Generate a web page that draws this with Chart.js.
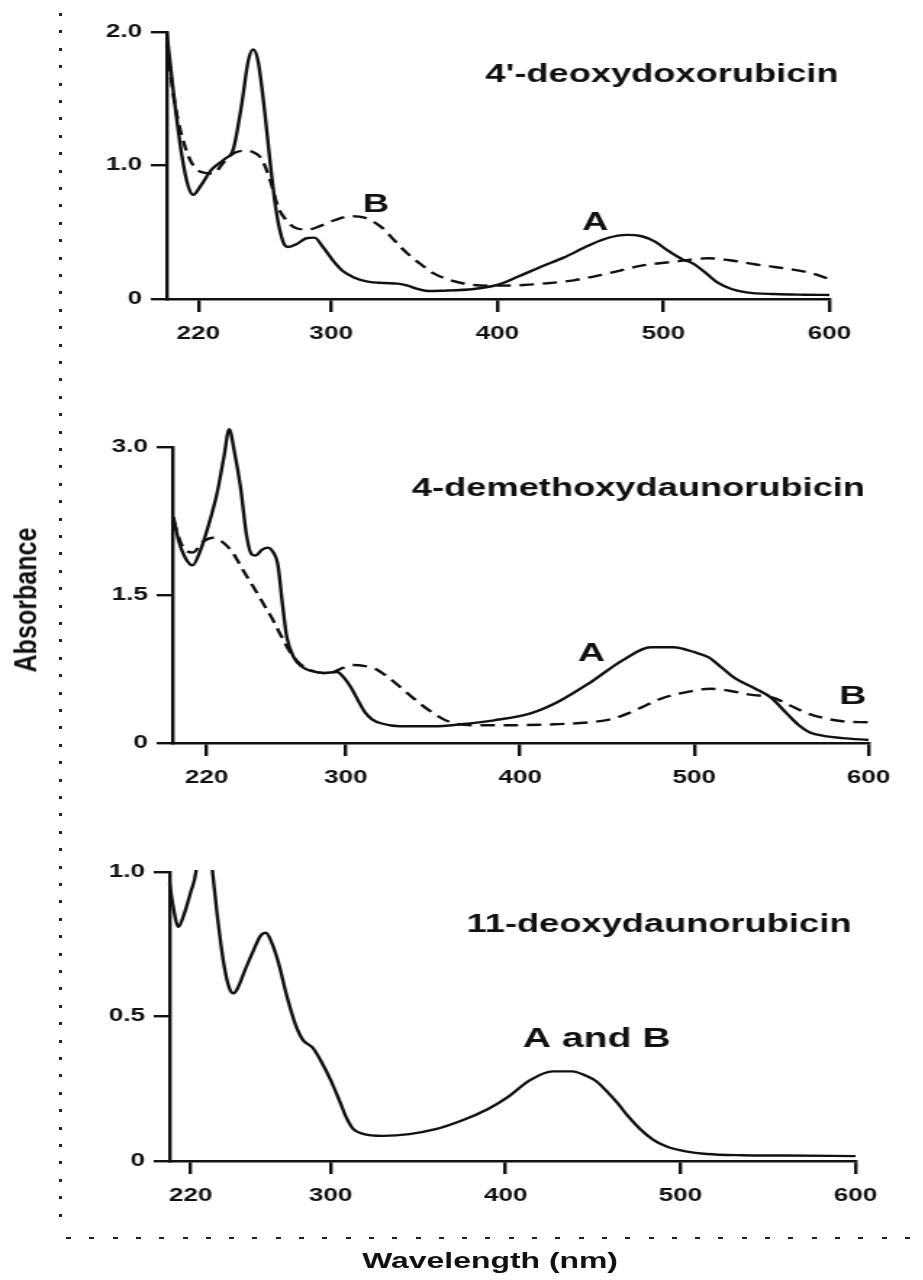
<!DOCTYPE html>
<html>
<head>
<meta charset="utf-8">
<script src="https://cdn.jsdelivr.net/npm/chart.js@4/dist/chart.umd.min.js"></script>
<style>
  html, body { margin: 0; padding: 0; background: #fff; }
  body { width: 923px; height: 1280px; position: relative; overflow: hidden; }
  /* the figure is drawn narrow and widened, which gives the wide bold lettering */
  #sheet { position: absolute; left: 0; top: 0; width: 637px; height: 1280px;
           transform: scaleX(1.45); transform-origin: 0 0; }
  #sheet canvas { position: absolute; left: 0; }
  .axis-title { position: absolute; font: bold 22px "Liberation Sans", Arial, sans-serif;
                color: #111; white-space: nowrap; line-height: 1; }
  #ytitle { left: 17.6px; top: 600px; transform: translate(-50%, -50%) rotate(-90deg) scaleX(1.14); }
  #xtitle { left: 338px; top: 1250px; transform: translateX(-50%); }
  #vdots { position: absolute; left: 59px; top: 13px; width: 3px; height: 1212px;
           background: repeating-linear-gradient(to bottom, #222 0 3px, transparent 3px 17.4px); }
  #hdash { position: absolute; left: 66px; top: 1237px; width: 857px; height: 2px;
           background: repeating-linear-gradient(to right, #222 0 5px, transparent 5px 23.3px); }
</style>
</head>
<body>
<div id="vdots"></div>
<div id="hdash"></div>
<div id="sheet">
  <canvas id="chart1" width="637" height="350" style="top:0px"></canvas>
  <canvas id="chart2" width="637" height="420" style="top:380px"></canvas>
  <canvas id="chart3" width="637" height="400" style="top:820px"></canvas>
  <div class="axis-title" id="ytitle">Absorbance</div>
  <div class="axis-title" id="xtitle">Wavelength (nm)</div>
</div>
<script>
// 4'-deoxydoxorubicin
const wlA1 = [201, 205, 210, 214, 217, 221, 228, 236, 241, 246, 250, 253, 256, 260, 263, 267, 271, 274, 279, 285, 290, 295, 301, 307, 314, 322, 332, 340, 346, 352, 358, 366, 386, 400, 413, 426, 440, 455, 466, 478, 487, 495, 503, 511, 518, 525, 533, 541, 550, 567, 585, 600];
const absA1 = [2.0, 1.55, 1.08, 0.84, 0.78, 0.84, 0.97, 1.05, 1.12, 1.45, 1.78, 1.87, 1.78, 1.40, 1.05, 0.65, 0.43, 0.39, 0.41, 0.455, 0.46, 0.39, 0.29, 0.21, 0.16, 0.13, 0.12, 0.115, 0.10, 0.075, 0.06, 0.062, 0.075, 0.105, 0.17, 0.24, 0.31, 0.40, 0.455, 0.48, 0.47, 0.43, 0.36, 0.30, 0.265, 0.20, 0.12, 0.075, 0.05, 0.037, 0.032, 0.03];
const wlB1 = [201, 206, 212, 217, 222, 229, 235, 241, 248, 253, 258, 263, 268, 273, 279, 286, 294, 302, 312, 320, 330, 338, 346, 354, 362, 372, 386, 400, 416, 432, 446, 466, 487, 507, 527, 540, 555, 567, 587, 600];
const absB1 = [1.9, 1.45, 1.14, 1.0, 0.95, 0.94, 1.02, 1.09, 1.11, 1.10, 1.05, 0.90, 0.69, 0.59, 0.53, 0.52, 0.55, 0.59, 0.62, 0.61, 0.54, 0.44, 0.34, 0.26, 0.19, 0.14, 0.105, 0.10, 0.105, 0.12, 0.14, 0.19, 0.25, 0.28, 0.305, 0.29, 0.26, 0.24, 0.20, 0.15];

// 4-demethoxydaunorubicin
const wlA2 = [201, 204, 208, 212, 216, 221, 226, 230, 233, 236, 239.5, 243, 246, 248, 252, 255, 258, 261, 263.5, 266, 270, 275, 280, 287, 295, 299, 303, 307, 311, 315, 320, 331, 350, 366, 385, 406, 421, 440, 459, 475, 488, 500, 508, 516, 523, 535, 544, 553, 560, 566, 575, 585, 600];
const absA2 = [2.29, 2.05, 1.87, 1.80, 1.93, 2.20, 2.53, 2.90, 3.18, 2.95, 2.59, 2.10, 1.91, 1.90, 1.96, 1.98, 1.94, 1.80, 1.42, 1.08, 0.87, 0.77, 0.73, 0.71, 0.72, 0.66, 0.56, 0.43, 0.31, 0.24, 0.20, 0.17, 0.17, 0.19, 0.23, 0.30, 0.41, 0.61, 0.84, 0.97, 0.97, 0.92, 0.87, 0.76, 0.66, 0.55, 0.46, 0.30, 0.18, 0.11, 0.07, 0.05, 0.03];
const wlB2 = [201, 206, 212, 218, 224, 229, 235, 241, 247, 253, 258, 263, 267, 272, 278, 287, 293, 298, 304, 311, 317, 324, 331, 339, 347, 355, 362, 375, 393, 420, 440, 452, 462, 472, 481, 494, 509, 520, 532, 545, 555, 565, 575, 585, 600];
const absB2 = [2.25, 2.0, 1.93, 2.04, 2.08, 2.04, 1.93, 1.75, 1.58, 1.40, 1.25, 1.08, 0.95, 0.83, 0.75, 0.71, 0.72, 0.76, 0.79, 0.78, 0.75, 0.67, 0.57, 0.45, 0.34, 0.25, 0.20, 0.18, 0.18, 0.19, 0.21, 0.24, 0.30, 0.38, 0.45, 0.51, 0.55, 0.53, 0.49, 0.46, 0.38, 0.30, 0.25, 0.22, 0.21];

// 11-deoxydaunorubicin (A and B coincide)
const wlAB3 = [208, 210, 213, 216, 220, 223, 226, 229, 232.5, 235, 239, 242, 244.5, 247, 251, 256, 260, 263, 266, 270, 275, 280, 284, 290, 295, 300, 305, 309, 313, 318, 330, 345, 360, 375, 390, 401, 414, 427, 438, 446, 452, 458, 464, 470, 477, 484, 492, 503, 515, 535, 560, 600];
const absAB3 = [0.96, 0.88, 0.81, 0.85, 0.93, 1.0, 1.2, 1.2, 1.0, 0.86, 0.68, 0.60, 0.58, 0.60, 0.66, 0.73, 0.78, 0.79, 0.76, 0.69, 0.57, 0.47, 0.42, 0.39, 0.34, 0.28, 0.21, 0.15, 0.11, 0.095, 0.087, 0.093, 0.11, 0.14, 0.18, 0.22, 0.28, 0.31, 0.31, 0.295, 0.275, 0.24, 0.20, 0.155, 0.11, 0.075, 0.05, 0.033, 0.024, 0.02, 0.019, 0.017];

const xTicks = [220, 300, 400, 500, 600];
const yTicks1 = [0, 1, 2];
const yLabels1 = ['0', '1.0', '2.0'];
const yTicks2 = [0, 1.5, 3];
const yLabels2 = ['0', '1.5', '3.0'];
const yTicks3 = [0, 0.5, 1];
const yLabels3 = ['0', '0.5', '1.0'];

const FONT = '"Liberation Sans", Arial, sans-serif';
Chart.defaults.font.family = FONT;
Chart.defaults.color = '#000';

const pts = (xs, ys) => xs.map((v, i) => ({ x: v, y: ys[i] }));

// panel title and curve letters
const textMarks = {
  id: 'textMarks',
  afterDatasetsDraw(chart, args, opts) {
    const { ctx, scales: { x, y } } = chart;
    ctx.save();
    ctx.fillStyle = '#111';
    ctx.textAlign = 'center';
    if (opts.title) {
      ctx.font = 'bold 25px ' + FONT;
      ctx.textBaseline = 'alphabetic';
      ctx.fillText(opts.title.text, opts.title.cx, opts.title.base);
    }
    ctx.textBaseline = 'middle';
    (opts.marks || []).forEach(m => {
      ctx.font = 'bold ' + m.size + 'px ' + FONT;
      ctx.fillText(m.text, x.getPixelForValue(m.x), y.getPixelForValue(m.y));
    });
    ctx.restore();
  }
};

function line(data, dashed, clip) {
  return {
    data: data,
    borderColor: '#111',
    borderWidth: 2.4,
    borderDash: dashed ? [10, 6] : [],
    pointRadius: 0,
    fill: false,
    clip: clip,
    cubicInterpolationMode: 'monotone'
  };
}

function panel(id, p) {
  new Chart(document.getElementById(id), {
    type: 'line',
    data: { datasets: p.datasets },
    plugins: [textMarks],
    options: {
      responsive: false,
      animation: false,
      events: [],
      layout: { padding: { top: p.top, right: p.right, left: 0, bottom: 0 } },
      plugins: {
        legend: { display: false },
        tooltip: { enabled: false },
        textMarks: { title: p.title, marks: p.marks }
      },
      scales: {
        x: {
          type: 'linear',
          min: p.xMin,
          max: 600,
          afterBuildTicks: s => { s.ticks = xTicks.map(v => ({ value: v })); },
          afterFit: s => { s.height = p.xH; },
          border: { display: true, color: '#111', width: 2.4 },
          grid: { display: true, drawOnChartArea: false, drawTicks: true, tickLength: 13, color: '#111', lineWidth: 2.4 },
          ticks: { padding: 11, maxRotation: 0, autoSkip: false, font: { size: 18, weight: 'bold' }, color: '#111' }
        },
        y: {
          min: 0,
          max: p.yTicks[p.yTicks.length - 1],
          afterBuildTicks: s => { s.ticks = p.yTicks.map(v => ({ value: v })); },
          afterFit: s => { s.width = p.yW; },
          border: { display: true, color: '#111', width: 2.4 },
          grid: { display: true, drawOnChartArea: false, drawTicks: true, tickLength: 11, color: '#111', lineWidth: 2.4 },
          ticks: {
            padding: 6,
            font: { size: 18, weight: 'bold' },
            color: '#111',
            callback: (v, i) => p.yLabels[i]
          }
        }
      }
    }
  });
}

panel('chart1', {
  datasets: [line(pts(wlA1, absA1), false, 3), line(pts(wlB1, absB1), true, 3)],
  xMin: 201, yTicks: yTicks1, yLabels: yLabels1,
  top: 32, right: 65, yW: 115, xH: 51,
  title: { text: "4'-deoxydoxorubicin", cx: 456.6, base: 82 },
  marks: [{ text: 'B', x: 327, y: 0.70, size: 25 }, { text: 'A', x: 459, y: 0.57, size: 25 }]
});

// the main band rises above the 3.0 tick, so this panel draws past its top edge
panel('chart2', {
  datasets: [line(pts(wlA2, absA2), false, false), line(pts(wlB2, absB2), true, false)],
  xMin: 200.5, yTicks: yTicks2, yLabels: yLabels2,
  top: 67, right: 38, yW: 119, xH: 57,
  title: { text: '4-demethoxydaunorubicin', cx: 440.3, base: 116 },
  marks: [{ text: 'A', x: 441, y: 0.90, size: 26 }, { text: 'B', x: 591, y: 0.47, size: 26 }]
});

panel('chart3', {
  datasets: [line(pts(wlAB3, absAB3), false, 2)],
  xMin: 208, yTicks: yTicks3, yLabels: yLabels3,
  top: 52, right: 47, yW: 117, xH: 59,
  title: { text: '11-deoxydaunorubicin', cx: 454.5, base: 112 },
  marks: [{ text: 'A and B', x: 452, y: 0.42, size: 27 }]
});
</script>
</body>
</html>
